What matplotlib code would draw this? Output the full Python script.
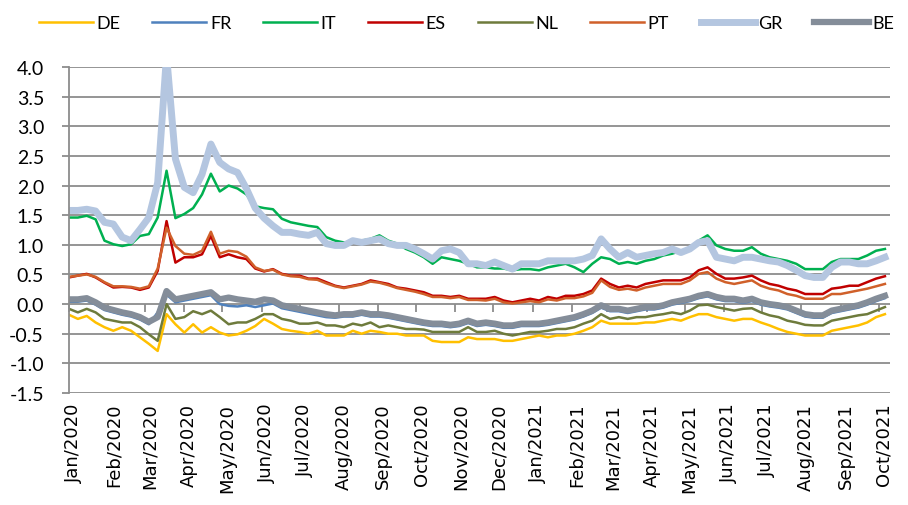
import matplotlib
matplotlib.use('Agg')
import matplotlib.pyplot as plt
from matplotlib.ticker import FormatStrFormatter
from matplotlib.transforms import ScaledTranslation
import numpy as np
import pandas as pd

plt.rcParams['font.family'] = ['Lato', 'DejaVu Sans']

# weekly observations (Wednesdays), Jan 2020 - Oct 2021
dates = pd.date_range('2020-01-01', periods=93, freq='7D')
month_ticks = pd.date_range('2020-01-01', '2021-10-01', freq='MS')

de = [-0.18, -0.25, -0.20, -0.31, -0.39, -0.45, -0.39, -0.45, -0.56, -0.67, -0.79, -0.17, -0.34, -0.48, -0.34, -0.48, -0.39, -0.48, -0.53, -0.51, -0.45, -0.37, -0.25,
      -0.33, -0.42, -0.45, -0.47, -0.50, -0.45, -0.53, -0.53, -0.53, -0.45, -0.50, -0.45, -0.47, -0.50, -0.50, -0.53, -0.53, -0.53, -0.62, -0.64, -0.64, -0.64, -0.56,
      -0.59, -0.59, -0.59, -0.62, -0.62, -0.59, -0.56, -0.53, -0.56, -0.53, -0.53, -0.50, -0.45, -0.39, -0.28, -0.33, -0.33, -0.33, -0.33, -0.31, -0.31, -0.28, -0.25,
      -0.28, -0.22, -0.17, -0.17, -0.22, -0.25, -0.28, -0.25, -0.25, -0.31, -0.36, -0.42, -0.47, -0.50, -0.53, -0.53, -0.53, -0.45, -0.42, -0.39, -0.36, -0.31, -0.22, -0.17]

fr = [0.04, 0.04, 0.06, -0.01, -0.10, -0.14, -0.18, -0.21, -0.26, -0.34, -0.14, 0.16, 0.03, 0.06, 0.09, 0.12, 0.15, 0.00, -0.03, -0.04, -0.02, -0.05, -0.02,
      0.01, -0.07, -0.10, -0.13, -0.16, -0.19, -0.22, -0.23, -0.21, -0.21, -0.18, -0.21, -0.21, -0.23, -0.26, -0.29, -0.32, -0.35, -0.37, -0.37, -0.39, -0.37, -0.32,
      -0.37, -0.35, -0.37, -0.40, -0.40, -0.37, -0.37, -0.37, -0.35, -0.32, -0.29, -0.26, -0.21, -0.15, -0.06, -0.12, -0.12, -0.15, -0.12, -0.09, -0.09, -0.06, -0.01,
      0.02, 0.05, 0.10, 0.13, 0.08, 0.05, 0.05, 0.02, 0.05, -0.01, -0.04, -0.06, -0.09, -0.15, -0.21, -0.23, -0.23, -0.15, -0.12, -0.09, -0.06, -0.01, 0.05, 0.10]

it = [1.46, 1.46, 1.49, 1.43, 1.07, 1.01, 0.98, 1.01, 1.15, 1.18, 1.46, 2.25, 1.45, 1.52, 1.62, 1.85, 2.20, 1.90, 2.00, 1.95, 1.85, 1.65, 1.62,
      1.60, 1.44, 1.38, 1.35, 1.32, 1.30, 1.13, 1.07, 1.04, 1.04, 1.07, 1.10, 1.16, 1.07, 1.02, 0.93, 0.87, 0.79, 0.68, 0.79, 0.76, 0.73, 0.68,
      0.62, 0.62, 0.60, 0.60, 0.57, 0.59, 0.59, 0.57, 0.62, 0.65, 0.68, 0.62, 0.54, 0.68, 0.79, 0.76, 0.68, 0.71, 0.68, 0.73, 0.76, 0.82, 0.85,
      0.90, 0.93, 1.07, 1.16, 0.99, 0.93, 0.90, 0.90, 0.96, 0.85, 0.79, 0.76, 0.73, 0.68, 0.59, 0.59, 0.59, 0.71, 0.76, 0.76, 0.76, 0.82, 0.90, 0.93]

es = [0.45, 0.48, 0.51, 0.45, 0.36, 0.28, 0.29, 0.28, 0.24, 0.28, 0.56, 1.40, 0.70, 0.79, 0.79, 0.84, 1.15, 0.79, 0.84, 0.79, 0.76, 0.60, 0.55,
      0.59, 0.51, 0.48, 0.48, 0.43, 0.43, 0.37, 0.31, 0.28, 0.31, 0.34, 0.40, 0.37, 0.34, 0.28, 0.26, 0.23, 0.20, 0.14, 0.14, 0.12, 0.14, 0.09,
      0.09, 0.09, 0.12, 0.06, 0.03, 0.06, 0.09, 0.06, 0.12, 0.09, 0.14, 0.14, 0.17, 0.23, 0.43, 0.34, 0.28, 0.31, 0.28, 0.34, 0.37, 0.40, 0.40,
      0.40, 0.45, 0.57, 0.62, 0.51, 0.43, 0.43, 0.45, 0.48, 0.40, 0.34, 0.31, 0.26, 0.23, 0.17, 0.17, 0.17, 0.26, 0.28, 0.31, 0.31, 0.37, 0.43, 0.47]

nl = [-0.08, -0.14, -0.08, -0.14, -0.25, -0.28, -0.31, -0.31, -0.39, -0.51, -0.62, 0.00, -0.25, -0.22, -0.12, -0.17, -0.11, -0.22, -0.34, -0.31, -0.31, -0.25, -0.17,
      -0.17, -0.25, -0.28, -0.33, -0.33, -0.31, -0.36, -0.36, -0.39, -0.33, -0.36, -0.31, -0.39, -0.36, -0.39, -0.42, -0.42, -0.43, -0.47, -0.47, -0.47, -0.47, -0.39,
      -0.47, -0.47, -0.45, -0.50, -0.53, -0.50, -0.47, -0.47, -0.45, -0.42, -0.42, -0.39, -0.33, -0.28, -0.17, -0.25, -0.22, -0.25, -0.22, -0.22, -0.19, -0.17, -0.14,
      -0.17, -0.11, -0.02, -0.01, -0.05, -0.08, -0.11, -0.08, -0.07, -0.14, -0.19, -0.22, -0.28, -0.31, -0.35, -0.36, -0.36, -0.28, -0.25, -0.22, -0.19, -0.17, -0.11, -0.05]

pt = [0.46, 0.48, 0.50, 0.46, 0.37, 0.30, 0.30, 0.29, 0.26, 0.30, 0.60, 1.29, 0.98, 0.85, 0.83, 0.90, 1.22, 0.85, 0.90, 0.88, 0.80, 0.62, 0.56,
      0.58, 0.50, 0.47, 0.46, 0.42, 0.41, 0.35, 0.30, 0.27, 0.30, 0.33, 0.38, 0.36, 0.32, 0.27, 0.24, 0.21, 0.17, 0.12, 0.12, 0.10, 0.12, 0.07,
      0.07, 0.06, 0.09, 0.03, 0.01, 0.03, 0.05, 0.03, 0.08, 0.06, 0.10, 0.10, 0.13, 0.19, 0.40, 0.29, 0.24, 0.26, 0.23, 0.28, 0.31, 0.34, 0.34,
      0.34, 0.40, 0.51, 0.54, 0.43, 0.37, 0.34, 0.37, 0.40, 0.31, 0.26, 0.23, 0.17, 0.14, 0.09, 0.09, 0.09, 0.17, 0.17, 0.20, 0.23, 0.26, 0.30, 0.34]

gr = [1.58, 1.58, 1.60, 1.57, 1.38, 1.35, 1.13, 1.07, 1.26, 1.46, 2.05, 4.20, 2.45, 1.97, 1.88, 2.19, 2.70, 2.39, 2.28, 2.22, 1.95, 1.62, 1.45,
      1.32, 1.21, 1.21, 1.18, 1.16, 1.21, 1.02, 0.99, 0.99, 1.07, 1.04, 1.07, 1.10, 1.02, 0.99, 0.99, 0.93, 0.85, 0.76, 0.90, 0.93, 0.87, 0.68,
      0.68, 0.65, 0.71, 0.65, 0.59, 0.68, 0.68, 0.68, 0.73, 0.73, 0.73, 0.73, 0.76, 0.82, 1.10, 0.93, 0.79, 0.87, 0.79, 0.82, 0.85, 0.87, 0.93,
      0.87, 0.93, 1.04, 1.07, 0.79, 0.76, 0.73, 0.79, 0.79, 0.76, 0.73, 0.71, 0.65, 0.57, 0.48, 0.45, 0.45, 0.62, 0.71, 0.71, 0.68, 0.68, 0.73, 0.79]

be = [0.08, 0.08, 0.10, 0.03, -0.06, -0.10, -0.14, -0.17, -0.22, -0.30, -0.22, 0.22, 0.08, 0.11, 0.14, 0.17, 0.20, 0.08, 0.11, 0.08, 0.06, 0.04, 0.08,
      0.06, -0.02, -0.05, -0.08, -0.11, -0.14, -0.17, -0.19, -0.17, -0.17, -0.14, -0.17, -0.17, -0.19, -0.22, -0.25, -0.28, -0.31, -0.33, -0.33, -0.35, -0.33, -0.28,
      -0.33, -0.31, -0.33, -0.36, -0.36, -0.33, -0.33, -0.33, -0.31, -0.28, -0.25, -0.22, -0.17, -0.11, -0.02, -0.08, -0.08, -0.11, -0.08, -0.05, -0.05, -0.02, 0.03,
      0.06, 0.09, 0.14, 0.17, 0.12, 0.09, 0.09, 0.06, 0.09, 0.03, 0.00, -0.02, -0.05, -0.11, -0.17, -0.19, -0.19, -0.11, -0.08, -0.05, -0.02, 0.03, 0.09, 0.14]

names = ['DE', 'FR', 'IT', 'ES', 'NL', 'PT', 'GR', 'BE']
values = [de, fr, it, es, nl, pt, gr, be]
colors = ['#FFC000', '#4F81BD', '#00B050', '#C00000', '#6E7B3C', '#D0602A', '#B4C6E0', '#848D99']
widths = [1.8, 1.8, 1.8, 1.8, 1.8, 1.8, 5.0, 4.5]

fig = plt.figure(figsize=(9.08, 5.06), dpi=100)
ax = fig.add_axes([69 / 908, 1 - 394 / 506, 821 / 908, 326 / 506])

for name, vals, c, lw in zip(names, values, colors, widths):
    ax.plot(dates, vals, color=c, lw=lw, label=name, solid_joinstyle='round')

ax.set_ylim(-1.5, 4.0)
ax.set_yticks(np.arange(-1.5, 4.01, 0.5))
ax.yaxis.set_major_formatter(FormatStrFormatter('%.1f'))
ax.set_xlim(pd.Timestamp('2020-01-01'), pd.Timestamp('2021-10-10'))

ax.grid(axis='y', color='#8c8c8c', lw=1.3)
ax.set_axisbelow(True)
for s in ['top', 'right', 'bottom']:
    ax.spines[s].set_visible(False)
ax.spines['left'].set_color('#8c8c8c')
ax.spines['left'].set_linewidth(1.3)
ax.tick_params(axis='y', direction='out', length=5, width=1.3, color='#8c8c8c',
               labelsize=14, pad=13)
ax.tick_params(axis='x', length=0, pad=7)

ax.set_xticks(month_ticks)
ax.set_xticklabels([d.strftime('%b/%Y') for d in month_ticks],
                   family='DejaVu Sans', fontsize=13, rotation=90)

# Excel sets the rotated labels slightly right of the month tick
fig.canvas.draw()
shift = ScaledTranslation(5 / 100, 0, fig.dpi_scale_trans)
for lab in ax.get_xticklabels():
    lab.set_fontfamily('DejaVu Sans')
    lab.set_transform(lab.get_transform() + shift)

# month tick marks hanging from the zero line
sec = ax.secondary_xaxis(0, transform=ax.transData)
sec.set_xticks(month_ticks)
sec.set_xticklabels([])
sec.tick_params(axis='x', direction='out', length=6, width=1.3, color='#8c8c8c')
sec.spines['bottom'].set_visible(False)

fig.legend(loc='upper left', bbox_to_anchor=(0.025, 1.0), ncol=8, frameon=False,
           fontsize=13, handlelength=3.0, handletextpad=0.2, columnspacing=1.75)

plt.savefig('out.png', dpi=100)
plt.close()
